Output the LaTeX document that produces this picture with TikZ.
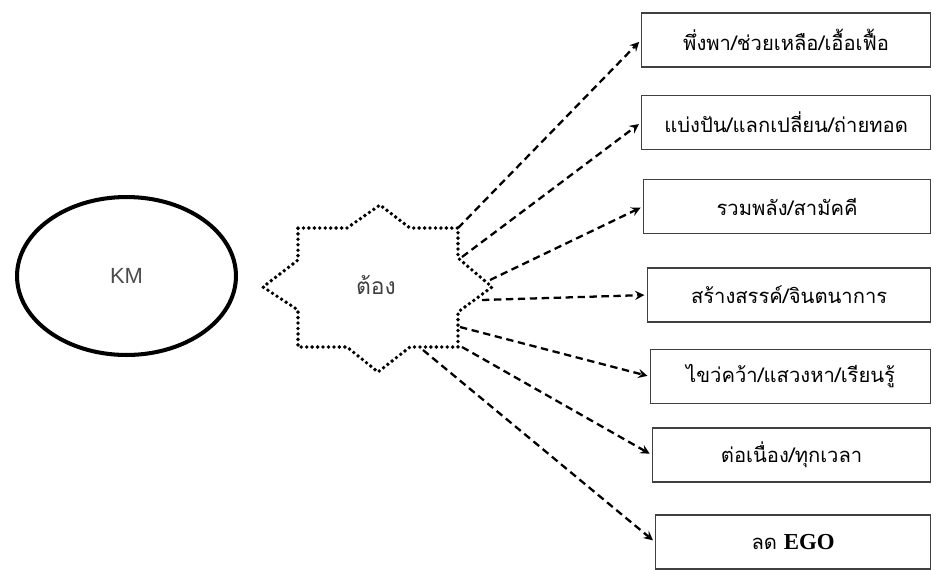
\documentclass[tikz,border=0pt]{standalone}
\usepackage{fontspec}
\setmainfont{Liberation Serif}
\newfontfamily\thaifont[Script=Thai]{Loma}
\newfontfamily\kmfont{Liberation Sans}
\usetikzlibrary{shapes.geometric}
\tikzset{
box/.style={draw=black!75,line width=0.7pt,minimum height=1.08cm,anchor=west,inner sep=0pt,font=\thaifont\fontsize{11.5}{13}\selectfont},
arr/.style={-stealth,dash pattern=on 4.2pt off 2.6pt,line width=1.3pt,shorten >=1.5pt},
dots/.style={dash pattern=on 0pt off 3.1pt,line cap=round,line width=2.2pt}
}
\begin{document}
\begin{tikzpicture}[x=0.02cm,y=-0.02cm]
\useasboundingbox (0,0) rectangle (934,569);
\node[ellipse,draw,line width=2.3pt,inner sep=0pt,minimum width=4.38cm,minimum height=3.16cm,text=black!70,font=\kmfont\fontsize{12.5}{14}\selectfont] (KM) at (126.5,276) {KM};
\draw[dots] (298,228) -- (347,228) -- (380,205) -- (410,228) -- (458,228) -- (458,258) -- (492,287) -- (458,312)
 -- (458,347) -- (410,347) -- (378,372) -- (347,347) -- (298,347) -- (298,310) -- (263,287) -- (298,260) -- cycle;
\node[text=black!75,font=\thaifont\fontsize{13}{15}\selectfont] (T) at (376,285) {ต้อง};
\coordinate (S1) at (458,228);
\coordinate (S2) at (462,257);
\coordinate (S3) at (490,280);
\coordinate (S4) at (482,300);
\coordinate (S5) at (460,327);
\coordinate (S6) at (462,347);
\coordinate (S7) at (423,350);
\node[box,minimum width=(930-641)*0.02cm] (B1) at (641,40) {พึ่งพา/ช่วยเหลือ/เอื้อเฟื้อ};
\node[box,minimum width=(930-641)*0.02cm] (B2) at (641,122.5) {แบ่งปัน/แลกเปลี่ยน/ถ่ายทอด};
\node[box,minimum width=(930-643)*0.02cm] (B3) at (643,206.5) {รวมพลัง/สามัคคี};
\node[box,minimum width=(930-647)*0.02cm] (B4) at (647,295) {สร้างสรรค์/จินตนาการ};
\node[box,minimum width=(930-650)*0.02cm] (B5) at (650,376.5) {ไขว่คว้า/แสวงหา/เรียนรู้};
\node[box,minimum width=(930-652)*0.02cm] (B6) at (652,455) {ต่อเนื่อง/ทุกเวลา};
\node[box,minimum width=(930-655)*0.02cm] (B7) at (655,542) {ลด {\rmfamily\bfseries\fontsize{13}{15}\selectfont EGO}};
\draw[arr] (S1) -- (B1.west);
\draw[arr] (S2) -- (B2.west);
\draw[arr] (S3) -- (B3.west);
\draw[arr] (S4) -- (B4.west);
\draw[arr] (S5) -- (B5.west);
\draw[arr] (S6) -- (B6.west);
\draw[arr] (S7) -- (B7.west);
\end{tikzpicture}
\end{document}
